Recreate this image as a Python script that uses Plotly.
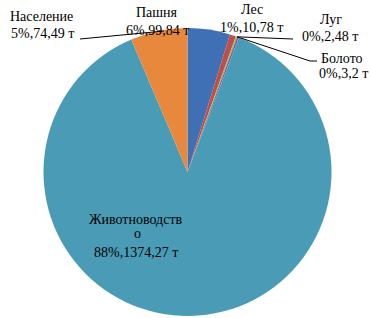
import math
import plotly.graph_objects as go

# ---- data ----
categories = ["Население", "Лес", "Луг", "Болото", "Животноводство", "Пашня"]
values = [74.49, 10.78, 2.48, 3.2, 1374.27, 99.84]
unit = "т"
colors = ["#3F70B6", "#BF4E4B", "#9BBB59", "#8064A2", "#4A9CB6", "#E8883C"]

W, H = 371, 318
CX, CY, R = 187.5, 172.0, 144.0
FONT = dict(family="Liberation Serif", size=14, color="#000000")

total = sum(values)


def fmt_val(v):
    return ("%g" % v).replace(".", ",")


def label_line(v):
    return f"{round(v / total * 100)}%,{fmt_val(v)} {unit}"


def px(x):
    return x / W


def py(y):
    return 1 - y / H


fig = go.Figure(go.Pie(
    labels=categories,
    values=values,
    sort=False,
    direction="clockwise",
    rotation=0,
    marker=dict(colors=colors, line=dict(width=0)),
    textinfo="none",
    hoverinfo="label+value+percent",
    showlegend=False,
    domain=dict(x=[(CX - R) / W, (CX + R) / W], y=[1 - (CY + R) / H, 1 - (CY - R) / H]),
))

# label text lines: (text, center x px, center y px)
lines = [
    (categories[0], 41, 17),
    (label_line(values[0]), 42, 34),
    (categories[5], 157, 13),
    (label_line(values[5]), 157, 31),
    (categories[1], 252, 10),
    (label_line(values[1]), 252, 28),
    (categories[2], 331, 20),
    (label_line(values[2]), 330, 37),
    (categories[3], 342, 59),
    (label_line(values[3]), 343, 74),
    (categories[4][:-1], 136, 219),
    (categories[4][-1], 137, 234),
    (label_line(values[4]), 136, 252),
]
annotations = [
    dict(text=t, x=px(x), y=py(y), xref="paper", yref="paper",
         xanchor="center", yanchor="middle", showarrow=False, font=FONT)
    for t, x, y in lines
]

# leader lines; small slices' line starts at the pie edge between Луг and Болото
ang = (values[0] + values[1] + values[2]) / total * 2 * math.pi
sx, sy = CX + R * math.sin(ang), CY - R * math.cos(ang)
line_style = dict(color="#000000", width=1)
shapes = [
    dict(type="line", xref="paper", yref="paper",
         x0=px(80), y0=py(39), x1=px(164), y1=py(31), line=line_style),
    dict(type="line", xref="paper", yref="paper",
         x0=px(sx), y0=py(sy), x1=px(293), y1=py(39), line=line_style),
    dict(type="path", xref="paper", yref="paper",
         path=f"M {px(sx)},{py(sy)} L {px(310)},{py(61)} L {px(317)},{py(61)}",
         line=line_style),
]

fig.update_layout(
    width=W, height=H,
    margin=dict(l=0, r=0, t=0, b=0),
    paper_bgcolor="white",
    plot_bgcolor="white",
    annotations=annotations,
    shapes=shapes,
)

fig.write_html("out.html")
